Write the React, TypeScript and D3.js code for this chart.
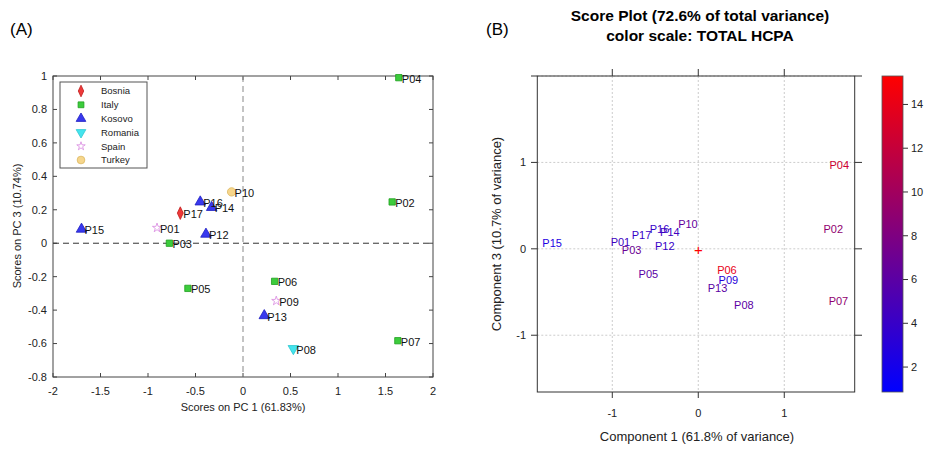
import React, { useEffect, useRef } from 'react';
import * as d3 from 'd3';

// sample ids with scores on PC1 / PC3 and HCPA total (colour scale of panel B)
const samples = ['P01', 'P02', 'P03', 'P04', 'P05', 'P06', 'P07', 'P08', 'P09', 'P10', 'P12', 'P13', 'P14', 'P15', 'P16', 'P17'];
const pc1 = [-0.905, 1.57, -0.775, 1.64, -0.58, 0.333, 1.63, 0.53, 0.35, -0.12, -0.39, 0.224, -0.33, -1.7, -0.45, -0.66];
const pc3 = [0.092, 0.247, 0.0, 0.99, -0.27, -0.228, -0.583, -0.63, -0.345, 0.307, 0.054, -0.433, 0.214, 0.084, 0.247, 0.18];
const origin = ['Spain', 'Italy', 'Italy', 'Italy', 'Italy', 'Italy', 'Italy', 'Romania', 'Spain', 'Turkey', 'Kosovo', 'Kosovo', 'Kosovo', 'Kosovo', 'Kosovo', 'Bosnia'];
const hcpa = [4.5, 9, 7, 12.5, 6, 14, 9, 6, 3, 6.5, 4, 6, 4.5, 2.5, 4, 4];

const countries = ['Bosnia', 'Italy', 'Kosovo', 'Romania', 'Spain', 'Turkey'];
const xTicksA = [-2, -1.5, -1, -0.5, 0, 0.5, 1, 1.5, 2];
const yTicksA = [-0.8, -0.6, -0.4, -0.2, 0, 0.2, 0.4, 0.6, 0.8, 1];
const ticksB = [-1, 0, 1];
const yTicksB = [-1, 0, 1, 2];
const barTicks = [2, 4, 6, 8, 10, 12, 14];

const FONT = 'Liberation Sans, Arial, sans-serif';

const markerStyle: Record<string, { fill: string; stroke: string }> = {
  Bosnia: { fill: '#ee3838', stroke: '#c02020' },
  Italy: { fill: '#3ccc3c', stroke: '#20a020' },
  Kosovo: { fill: '#3838ee', stroke: '#2020c0' },
  Romania: { fill: '#44e4ee', stroke: '#30c8d0' },
  Spain: { fill: 'none', stroke: '#d888e0' },
  Turkey: { fill: '#f6d68c', stroke: '#dcb860' },
};

function marker(g: any, country: string, x: number, y: number, k = 1) {
  const st = markerStyle[country];
  let sym: any;
  let rot = 0;
  if (country === 'Bosnia') sym = d3.symbol(d3.symbolDiamond, 38 * k);
  else if (country === 'Italy') sym = d3.symbol(d3.symbolSquare, 40 * k);
  else if (country === 'Kosovo') sym = d3.symbol(d3.symbolTriangle, 48 * k);
  else if (country === 'Romania') { sym = d3.symbol(d3.symbolTriangle, 48 * k); rot = 180; }
  else if (country === 'Spain') sym = d3.symbol(d3.symbolStar, 26 * k);
  else sym = d3.symbol(d3.symbolCircle, 55 * k);
  g.append('path')
    .attr('d', sym())
    .attr('transform', `translate(${x},${y}) rotate(${rot})${country === 'Bosnia' ? ' scale(0.9,1.1)' : ''}`)
    .attr('fill', st.fill)
    .attr('stroke', st.stroke)
    .attr('stroke-width', 0.8);
}

export default function App() {
  const svgRef = useRef<SVGSVGElement>(null);

  useEffect(() => {
    const svg = d3.select(svgRef.current);
    svg.selectAll('*').remove();

    // ---------- panel A ----------
    const x = d3.scaleLinear().domain([-2, 2]).range([53, 433]);
    const y = d3.scaleLinear().domain([-0.8, 1]).range([377, 76]);
    const a = svg.append('g').attr('font-family', FONT);

    a.append('text').attr('x', 10).attr('y', 35).attr('font-size', 17).text('(A)');

    a.append('rect').attr('x', 53).attr('y', 76).attr('width', 380).attr('height', 301)
      .attr('fill', 'white').attr('stroke', '#444').attr('stroke-width', 1);

    // inward ticks on all four sides
    xTicksA.forEach((t) => {
      a.append('line').attr('x1', x(t)).attr('x2', x(t)).attr('y1', 377).attr('y2', 373).attr('stroke', '#444');
      a.append('line').attr('x1', x(t)).attr('x2', x(t)).attr('y1', 76).attr('y2', 80).attr('stroke', '#444');
      a.append('text').attr('x', x(t)).attr('y', 395).attr('text-anchor', 'middle')
        .attr('font-size', 11).attr('fill', '#222').text(String(t));
    });
    yTicksA.forEach((t) => {
      a.append('line').attr('x1', 53).attr('x2', 57).attr('y1', y(t)).attr('y2', y(t)).attr('stroke', '#444');
      a.append('line').attr('x1', 433).attr('x2', 429).attr('y1', y(t)).attr('y2', y(t)).attr('stroke', '#444');
      a.append('text').attr('x', 47).attr('y', y(t)).attr('dy', '0.35em').attr('text-anchor', 'end')
        .attr('font-size', 11).attr('fill', '#222').text(String(t));
    });

    // dashed zero lines
    a.append('line').attr('x1', x(0)).attr('x2', x(0)).attr('y1', 76).attr('y2', 377)
      .attr('stroke', '#888').attr('stroke-dasharray', '6,4');
    a.append('line').attr('x1', 53).attr('x2', 433).attr('y1', y(0)).attr('y2', y(0))
      .attr('stroke', '#333').attr('stroke-dasharray', '6,4');

    a.append('text').attr('x', 243).attr('y', 411).attr('text-anchor', 'middle')
      .attr('font-size', 11).attr('fill', '#222').text('Scores on PC 1 (61.83%)');
    a.append('text').attr('transform', 'translate(21,226) rotate(-90)').attr('text-anchor', 'middle')
      .attr('font-size', 11).attr('fill', '#222').text('Scores on PC 3 (10.74%)');

    samples.forEach((s, i) => {
      marker(a, origin[i], x(pc1[i]), y(pc3[i]));
      a.append('text').attr('x', x(pc1[i]) + 3).attr('y', y(pc3[i]) + 5)
        .attr('font-size', 11).attr('fill', '#111').text(s);
    });

    // legend
    a.append('rect').attr('x', 60).attr('y', 82).attr('width', 87).attr('height', 86)
      .attr('fill', 'white').attr('stroke', '#555');
    countries.forEach((c, i) => {
      const ly = 91 + i * 13.8;
      marker(a, c, 81, ly, 0.85);
      a.append('text').attr('x', 101).attr('y', ly).attr('dy', '0.35em')
        .attr('font-size', 9.5).attr('fill', '#222').text(c);
    });

    // ---------- panel B ----------
    const xb = d3.scaleLinear().domain([-1.872, 1.819]).range([537.3, 854.7]);
    const yb = d3.scaleLinear().domain([-1.657, 2]).range([392, 76]);
    const color = d3.scaleLinear<string>().domain([0.86, 15.3]).range(['blue', 'red']).interpolate(d3.interpolateRgb);
    const b = svg.append('g').attr('font-family', FONT);

    b.append('text').attr('x', 486).attr('y', 35).attr('font-size', 17).text('(B)');
    b.append('text').attr('x', 700).attr('y', 21).attr('text-anchor', 'middle')
      .attr('font-size', 15.5).attr('font-weight', 'bold').text('Score Plot (72.6% of total variance)');
    b.append('text').attr('x', 700).attr('y', 41).attr('text-anchor', 'middle')
      .attr('font-size', 15.5).attr('font-weight', 'bold').text('color scale: TOTAL HCPA');

    // dotted grid
    ticksB.forEach((t) => {
      b.append('line').attr('x1', xb(t)).attr('x2', xb(t)).attr('y1', 76).attr('y2', 392)
        .attr('stroke', '#ccc').attr('stroke-dasharray', '2,2');
    });
    yTicksB.forEach((t) => {
      b.append('line').attr('x1', 537.3).attr('x2', 854.7).attr('y1', yb(t)).attr('y2', yb(t))
        .attr('stroke', '#ccc').attr('stroke-dasharray', '2,2');
    });

    b.append('rect').attr('x', 537.3).attr('y', 76).attr('width', 317.4).attr('height', 316)
      .attr('fill', 'none').attr('stroke', '#333');

    // outward ticks
    ticksB.forEach((t) => {
      b.append('line').attr('x1', xb(t)).attr('x2', xb(t)).attr('y1', 392).attr('y2', 398).attr('stroke', '#333');
      b.append('line').attr('x1', xb(t)).attr('x2', xb(t)).attr('y1', 76).attr('y2', 69).attr('stroke', '#333');
      b.append('text').attr('x', xb(t)).attr('y', 417).attr('text-anchor', 'middle')
        .attr('font-size', 11).attr('fill', '#222').text(String(t));
    });
    yTicksB.forEach((t) => {
      b.append('line').attr('x1', 537.3).attr('x2', 531).attr('y1', yb(t)).attr('y2', yb(t)).attr('stroke', '#333');
      b.append('line').attr('x1', 854.7).attr('x2', 862).attr('y1', yb(t)).attr('y2', yb(t)).attr('stroke', '#333');
      if (t < 2) {
        b.append('text').attr('x', 526).attr('y', yb(t)).attr('dy', '0.35em').attr('text-anchor', 'end')
          .attr('font-size', 11).attr('fill', '#222').text(String(t));
      }
    });

    b.append('text').attr('x', 697).attr('y', 441).attr('text-anchor', 'middle')
      .attr('font-size', 13).attr('fill', '#222').text('Component 1 (61.8% of variance)');
    b.append('text').attr('transform', 'translate(501,234) rotate(-90)').attr('text-anchor', 'middle')
      .attr('font-size', 13).attr('fill', '#222').text('Component 3 (10.7% of variance)');

    b.append('text').attr('x', xb(0)).attr('y', yb(0)).attr('dy', '0.38em').attr('text-anchor', 'middle')
      .attr('font-size', 15).attr('fill', 'red').text('+');

    samples.forEach((s, i) => {
      b.append('text').attr('x', xb(pc1[i])).attr('y', yb(pc3[i] - 0.02)).attr('dy', '0.35em')
        .attr('text-anchor', 'middle').attr('font-size', 11).attr('fill', color(hcpa[i])).text(s);
    });

    // colour bar
    const bar = d3.scaleLinear().domain([0.86, 15.3]).range([392, 76]);
    const defs = svg.append('defs');
    const grad = defs.append('linearGradient').attr('id', 'hcpa').attr('x1', 0).attr('x2', 0).attr('y1', 1).attr('y2', 0);
    grad.append('stop').attr('offset', '0%').attr('stop-color', 'blue');
    grad.append('stop').attr('offset', '100%').attr('stop-color', 'red');
    b.append('rect').attr('x', 882).attr('y', 76).attr('width', 21).attr('height', 316)
      .attr('fill', 'url(#hcpa)').attr('stroke', '#555').attr('stroke-width', 0.8);
    barTicks.forEach((t) => {
      b.append('line').attr('x1', 903).attr('x2', 908).attr('y1', bar(t)).attr('y2', bar(t)).attr('stroke', '#333');
      b.append('text').attr('x', 911).attr('y', bar(t)).attr('dy', '0.35em')
        .attr('font-size', 11).attr('fill', '#222').text(String(t));
    });
  }, []);

  return <svg ref={svgRef} width={927} height={451} style={{ position: 'absolute', left: 0, top: 0, background: 'white' }} />;
}
